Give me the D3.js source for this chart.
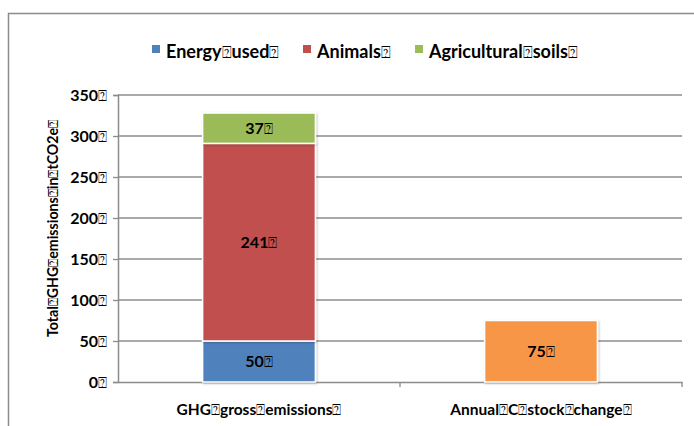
<!DOCTYPE html>
<html>
<head>
<meta charset="utf-8">
<script src="https://cdn.jsdelivr.net/npm/d3@7"></script>
<style>
  body { margin: 0; background: #fff; }
  text { font-family: Lato, "Open Sans", sans-serif; font-weight: bold; fill: #000; }
  tspan.box { font-family: "DejaVu Sans", sans-serif; font-weight: normal; }
</style>
</head>
<body>
<div id="chart"></div>
<script>
// data
var categories = ["GHG gross emissions", "Annual C stock change"];
var seriesNames = ["Energy used", "Animals", "Agricultural soils"];
var grossValues = [50, 241, 37];
var stockValues = [75];
var yTicks = [0, 50, 100, 150, 200, 250, 300, 350];
var yTitle = "Total GHG emissions in tCO2e";
var box = "\u2370"; // stray glyph box that stands in for spaces in the source text

var w = 694;
var h = 426;
var margin = {top: 95, right: 12, bottom: 44, left: 118};

var colors = ["#4F81BD", "#C0504D", "#9BBB59"];
var stockColor = "#F79646";

// write words with the box glyph after each one, like the source
function boxText(sel, str, boxSize) {
  var parts = String(str).split(" ");
  parts.forEach(function(p) {
    sel.append("tspan").text(p);
    sel.append("tspan")
      .attr("class", "box")
      .attr("font-size", boxSize + "px")
      .text(box);
  });
}

var svg = d3.select("#chart")
  .append("svg")
  .attr("width", w)
  .attr("height", h);

// outer frame
svg.append("path")
  .attr("d", "M8.5," + h + "V13.5H" + w)
  .attr("fill", "none")
  .attr("stroke", "#8c8c8c")
  .attr("stroke-width", 1.5);

var x = d3.scaleBand()
  .domain(categories)
  .range([margin.left, w - margin.right])
  .paddingInner(0.6)
  .paddingOuter(0.3);

var xOuter = d3.scaleBand()
  .domain(categories)
  .range([margin.left, w - margin.right]);

var y = d3.scaleLinear()
  .domain([0, 350])
  .range([h - margin.bottom, margin.top]);

// gridlines
svg.append("g")
  .selectAll("line")
  .data(yTicks.slice(1))
  .enter()
  .append("line")
  .attr("x1", margin.left)
  .attr("x2", w - margin.right)
  .attr("y1", function(d) { return y(d); })
  .attr("y2", function(d) { return y(d); })
  .attr("stroke", "#8c8c8c")
  .attr("stroke-width", 1.3);

// y axis
var yAxis = d3.axisLeft(y)
  .tickValues(yTicks)
  .tickSize(5)
  .tickFormat("");

var gy = svg.append("g")
  .attr("transform", "translate(" + margin.left + ",0)")
  .call(yAxis);
gy.select(".domain").attr("stroke", "#8c8c8c").attr("stroke-width", 1.5);
gy.selectAll(".tick line").attr("stroke", "#8c8c8c").attr("stroke-width", 1.3);
gy.selectAll(".tick text").remove();
gy.selectAll(".tick").append("text")
  .attr("x", -11)
  .attr("dy", "0.36em")
  .attr("text-anchor", "end")
  .attr("font-size", "16px")
  .each(function(d) { boxText(d3.select(this), d, 15); });

// x axis
var xAxis = d3.axisBottom(xOuter)
  .tickSize(0)
  .tickFormat("");
var gx = svg.append("g")
  .attr("transform", "translate(0," + y(0) + ")")
  .call(xAxis);
gx.select(".domain").attr("stroke", "#8c8c8c").attr("stroke-width", 1.5);
gx.selectAll(".sep")
  .data(categories)
  .enter()
  .append("line")
  .attr("x1", function(d) { return xOuter(d) + xOuter.bandwidth(); })
  .attr("x2", function(d) { return xOuter(d) + xOuter.bandwidth(); })
  .attr("y1", 0)
  .attr("y2", 5)
  .attr("stroke", "#8c8c8c")
  .attr("stroke-width", 1.3);

gx.selectAll(".xlabel")
  .data(categories)
  .enter()
  .append("text")
  .attr("x", function(d) { return xOuter(d) + xOuter.bandwidth() / 2; })
  .attr("y", 33)
  .attr("text-anchor", "middle")
  .attr("font-size", "15.5px")
  .each(function(d) { boxText(d3.select(this), d, 15); });

// stacked bar
var stackData = [];
var acc = 0;
grossValues.forEach(function(v, i) {
  stackData.push({name: seriesNames[i], y0: acc, y1: acc + v, value: v, color: colors[i]});
  acc += v;
});

var barFilter = svg.append("defs").append("filter")
  .attr("id", "shadow")
  .attr("x", "-10%").attr("y", "-10%").attr("width", "130%").attr("height", "130%");
barFilter.append("feDropShadow")
  .attr("dx", 1).attr("dy", 1).attr("stdDeviation", 1.2)
  .attr("flood-color", "#000").attr("flood-opacity", 0.25);

var bars = svg.append("g");

bars.selectAll(".seg")
  .data(stackData)
  .enter()
  .append("rect")
  .attr("x", x(categories[0]))
  .attr("width", x.bandwidth())
  .attr("y", function(d) { return y(d.y1); })
  .attr("height", function(d) { return y(d.y0) - y(d.y1); })
  .attr("fill", function(d) { return d.color; })
  .attr("stroke", "#fff")
  .attr("stroke-width", 1.5)
  .attr("filter", "url(#shadow)");

bars.selectAll(".stock")
  .data(stockValues)
  .enter()
  .append("rect")
  .attr("x", x(categories[1]))
  .attr("width", x.bandwidth())
  .attr("y", function(d) { return y(d); })
  .attr("height", function(d) { return y(0) - y(d); })
  .attr("fill", stockColor)
  .attr("stroke", "#fff")
  .attr("stroke-width", 1.5)
  .attr("filter", "url(#shadow)");

// value labels
var labels = stackData.map(function(d) {
  return {cx: x(categories[0]) + x.bandwidth() / 2, cy: y((d.y0 + d.y1) / 2), value: d.value};
});
stockValues.forEach(function(v) {
  labels.push({cx: x(categories[1]) + x.bandwidth() / 2, cy: y(v / 2), value: v});
});

svg.append("g").selectAll("text")
  .data(labels)
  .enter()
  .append("text")
  .attr("x", function(d) { return d.cx; })
  .attr("y", function(d) { return d.cy; })
  .attr("dy", "0.36em")
  .attr("text-anchor", "middle")
  .attr("font-size", "16px")
  .each(function(d) { boxText(d3.select(this), d.value, 15); });

// y title
svg.append("text")
  .attr("transform", "translate(58," + ((y(0) + y(350)) / 2 - 10) + ") rotate(-90)")
  .attr("text-anchor", "middle")
  .attr("font-size", "14.2px")
  .each(function() { boxText(d3.select(this), yTitle, 14); });

// legend
var legendX = [152, 303, 415];
var legend = svg.append("g").selectAll("g")
  .data(seriesNames)
  .enter()
  .append("g")
  .attr("transform", function(d, i) { return "translate(" + legendX[i] + ",45)"; });

legend.append("rect")
  .attr("width", 8)
  .attr("height", 8)
  .attr("fill", function(d, i) { return colors[i]; });

legend.append("text")
  .attr("x", 14)
  .attr("y", 13)
  .attr("font-size", "18px")
  .each(function(d) { boxText(d3.select(this), d, 16); });
</script>
</body>
</html>
